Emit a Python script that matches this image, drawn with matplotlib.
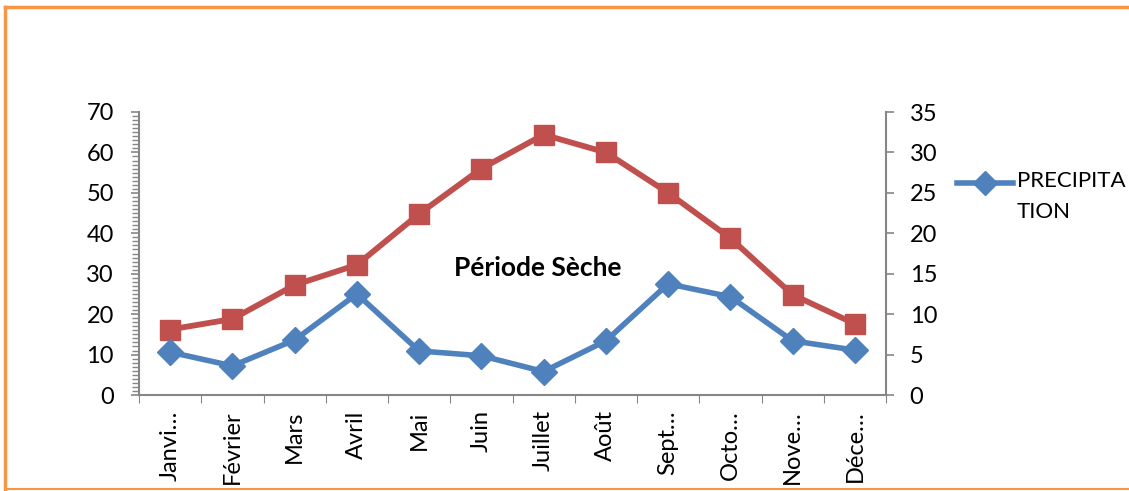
import numpy as np
import matplotlib
matplotlib.use("Agg")
import matplotlib.pyplot as plt
from matplotlib.lines import Line2D
from matplotlib.ticker import MultipleLocator, FixedLocator, NullFormatter

plt.rcParams['font.family'] = ['Lato', 'DejaVu Sans']

# Data
months = ["Janvi\u2026", "Février", "Mars", "Avril", "Mai", "Juin",
          "Juillet", "Août", "Sept\u2026", "Octo\u2026", "Nove\u2026", "Déce\u2026"]
precipitation = [10.6, 7.2, 13.6, 25.0, 10.9, 9.7, 5.8, 13.4, 27.5, 24.3, 13.4, 11.1]
temperature = [8.1, 9.4, 13.6, 16.1, 22.4, 28.0, 32.2, 30.0, 25.0, 19.4, 12.4, 8.8]
legend_label = "PRECIPITA\nTION"

BLUE = "#4F81BD"
RED = "#C0504D"
GREY = "#868686"
ORANGE = "#F79646"

W, H = 1129, 491
fig = plt.figure(figsize=(W / 100, H / 100), dpi=100)
ax = fig.add_axes([139 / W, 1 - 395 / H, (886 - 139) / W, (395 - 112) / H])
ax2 = ax.twinx()

x = np.arange(len(months))

ax2.plot(x, temperature, color=RED, lw=4.2, marker="s", markersize=15,
         markerfacecolor=RED, markeredgecolor=RED, zorder=3)
ax.plot(x, precipitation, color=BLUE, lw=4.0, marker="D", markersize=13,
        markerfacecolor=BLUE, markeredgecolor=BLUE, zorder=4)
ax.set_zorder(ax2.get_zorder() + 1)
ax.patch.set_visible(False)

ax.set_xlim(-0.5, len(months) - 0.5)
ax.set_ylim(0, 70)
ax2.set_ylim(0, 35)

ax.yaxis.set_major_locator(MultipleLocator(10))
ax.yaxis.set_minor_locator(MultipleLocator(1))
ax2.yaxis.set_major_locator(MultipleLocator(5))

# category boundaries carry the tick marks, centres carry the labels
ax.xaxis.set_major_locator(FixedLocator(np.arange(-0.5, len(months), 1.0)))
ax.xaxis.set_major_formatter(NullFormatter())
ax.xaxis.set_minor_locator(FixedLocator(x))
ax.set_xticklabels(months, minor=True, rotation=90, va="top", fontsize=17)
ax.tick_params(axis="x", which="major", length=6, color=GREY, direction="out")
ax.tick_params(axis="x", which="minor", length=0, pad=11)

ax.tick_params(axis="y", which="major", length=6, width=1.2, color=GREY, labelsize=17, pad=12)
ax.tick_params(axis="y", which="minor", length=5, width=1.0, color=GREY)
ax2.tick_params(axis="y", which="major", length=6, width=1.2, color=GREY, labelsize=17, pad=11)

for a in (ax, ax2):
    for s in a.spines.values():
        s.set_visible(False)
ax.spines["left"].set_visible(True)
ax.spines["bottom"].set_visible(True)
ax2.spines["right"].set_visible(True)
for s in (ax.spines["left"], ax.spines["bottom"], ax2.spines["right"]):
    s.set_color(GREY)
    s.set_linewidth(1.5)

ax.text(5.9, 31.4, "Période Sèche", ha="center", va="center",
        fontsize=19, fontweight="bold")

# legend: handle next to the first line of a wrapped label
fig.add_artist(Line2D([957 / W, 985 / W, 1013 / W], [1 - 183 / H] * 3,
                      transform=fig.transFigure, color=BLUE, lw=4.0,
                      marker="D", markersize=12, markevery=[1]))
fig.text(1017 / W, 1 - 171 / H, legend_label, ha="left", va="top",
         fontsize=16, linespacing=1.7)

# orange frame around the chart area
fig.add_artist(Line2D([5 / W, 5 / W], [1 - 7 / H, 1 - 489 / H],
                      transform=fig.transFigure, color=ORANGE, lw=2.5))
fig.add_artist(Line2D([5 / W, 1.0], [1 - 7 / H, 1 - 7 / H],
                      transform=fig.transFigure, color=ORANGE, lw=2.5))
fig.add_artist(Line2D([5 / W, 1.0], [1 - 489 / H, 1 - 489 / H],
                      transform=fig.transFigure, color=ORANGE, lw=1.5))

fig.savefig("out.png", dpi=100)
